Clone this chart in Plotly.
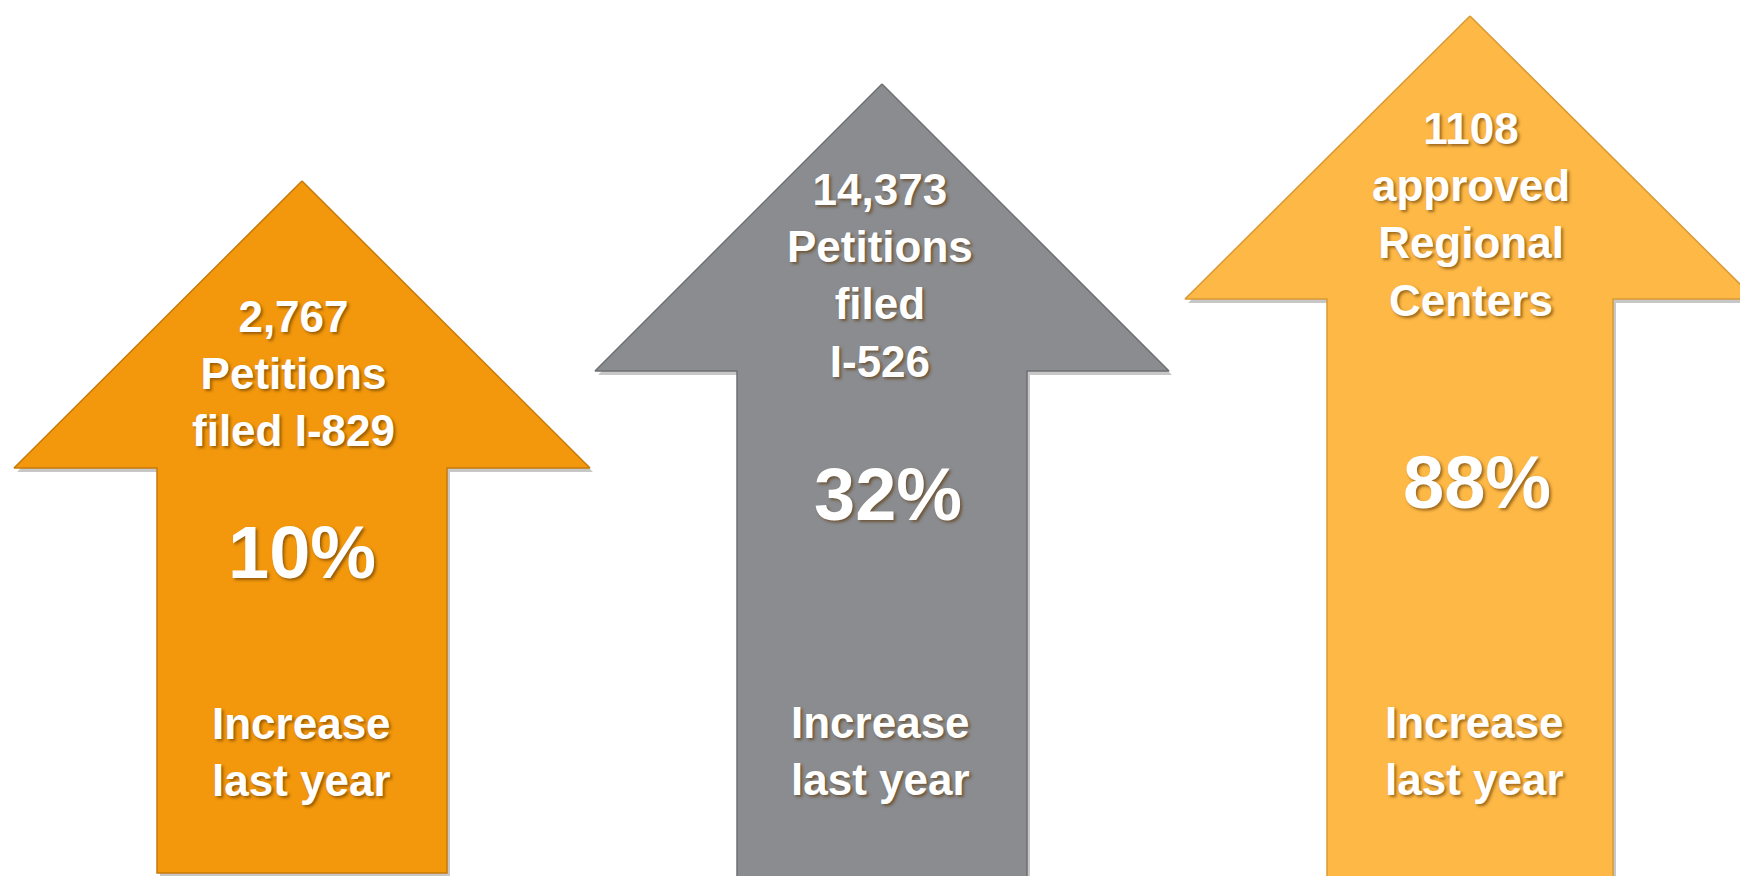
import plotly.graph_objects as go

# arrow data (pixel space of a 1748x876 canvas)
labels = ["2,767<br>Petitions<br>filed I-829",
          "14,373<br>Petitions<br>filed<br>I-526",
          "1108<br>approved<br>Regional<br>Centers"]
pcts = ["10%", "32%", "88%"]
footer = "Increase<br>last year"
colors = ["#F3980C", "#8A8C8F", "#FDB845"]
edges = ["#C77A08", "#6E7073", "#D99A35"]

tip_x = [302, 882, 1470]
tip_y = [181, 84, 16]
head_y = [468, 371, 299]
head_half = [288, 287, 285]
shaft_half = [145, 145, 143]
bottom_y = [873, 880, 880]

label_x = [293, 880, 1471]
label_y = [373, 275, 214]
pct_x = [302, 888, 1477]
pct_y = [552, 494, 482]
foot_x = [301, 880, 1474]
foot_y = [752, 751, 751]

fig = go.Figure()

for i in range(3):
    cx, ty, hy, hh, sh, by = tip_x[i], tip_y[i], head_y[i], head_half[i], shaft_half[i], bottom_y[i]
    xs = [cx, cx + hh, cx + sh, cx + sh, cx - sh, cx - sh, cx - hh, cx]
    ys = [ty, hy, hy, by, by, hy, hy, ty]
    # soft drop shadow
    fig.add_trace(go.Scatter(x=[v + 3 for v in xs], y=[v + 4 for v in ys], mode="lines",
                             fill="toself", fillcolor="rgba(0,0,0,0.22)",
                             line=dict(width=0), hoverinfo="skip", showlegend=False))
    fig.add_trace(go.Scatter(x=xs, y=ys, mode="lines", fill="toself",
                             fillcolor=colors[i], line=dict(color=edges[i], width=1.5),
                             hoverinfo="skip", showlegend=False))

shadow_txt = "2px 2px 3px rgba(90,50,0,0.6)"
font_base = dict(family="Liberation Sans, Arial, sans-serif", color="white", weight="bold",
                 shadow=shadow_txt)

for i in range(3):
    fig.add_annotation(x=label_x[i], y=label_y[i], text=labels[i], showarrow=False,
                       font=dict(size=44, **font_base), align="center")
    fig.add_annotation(x=pct_x[i], y=pct_y[i], text=pcts[i], showarrow=False,
                       font=dict(size=74, **font_base), align="center")
    fig.add_annotation(x=foot_x[i], y=foot_y[i], text=footer, showarrow=False,
                       font=dict(size=44, **font_base), align="center")

# the page body has an 8px margin, so the plot area starts at (8, 8)
fig.update_xaxes(range=[8, 1748], visible=False, fixedrange=True)
fig.update_yaxes(range=[876, 8], visible=False, fixedrange=True)
fig.update_layout(width=1740, height=868, margin=dict(l=0, r=0, t=0, b=0),
                  plot_bgcolor="white", paper_bgcolor="white", showlegend=False)

fig.write_html("out.html")
